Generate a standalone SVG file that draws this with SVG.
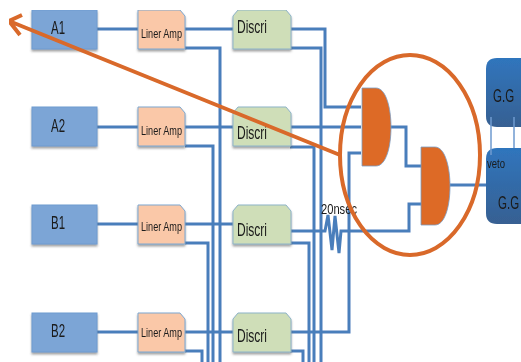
<svg xmlns="http://www.w3.org/2000/svg" width="521" height="362" viewBox="0 0 521 362">
<defs>
<filter id="sh" x="-10%" y="-10%" width="120%" height="125%"><feDropShadow dx="0" dy="2" stdDeviation="1" flood-color="#555" flood-opacity="0.55"/></filter>
<filter id="soft" x="0" y="0" width="100%" height="100%"><feGaussianBlur stdDeviation="0.45"/></filter>
<linearGradient id="gg" x1="0" y1="0" x2="0" y2="1"><stop offset="0" stop-color="#2f75bd"/><stop offset="1" stop-color="#376092"/></linearGradient>
</defs>
<style>
text{font-family:"Liberation Sans",Arial,sans-serif;fill:#1a1a1a}
.w{fill:none;stroke:#4a7ebb;stroke-width:3}
.d{fill:#7ba5d6;stroke:#6f9bd0;stroke-width:1;filter:url(#sh)}
.a{fill:#fac8a8;stroke:#7da7d0;stroke-width:1;filter:url(#sh)}
.c{fill:#cfdeb8;stroke:#8db3c8;stroke-width:1;filter:url(#sh)}
.g{fill:#dd6b26;stroke:#7a9cc4;stroke-width:0.8}
.big{font-size:18px}
.amp{font-size:13.5px}
.o{fill:none;stroke:#d9692a;stroke-width:4}
</style>
<g filter="url(#soft)">
<g id="connectors">
<path class="w" d="M97 29H139M97 127H139M97 224H139M97 332H139"/>
<path class="w" d="M185 29H233M185 127H233M185 224H233M185 332H233"/>
<path class="w" d="M185 48H220V362M185 146H213V362M185 243H208V362M185 351H202V362"/>
<path class="w" d="M290 29H325V107H361"/>
<path class="w" d="M290 48H321V362"/>
<path class="w" d="M290 127H361"/>
<path class="w" d="M290 147H314V362"/>
<path class="w" d="M290 231H325L328 215L332 250L335 216L339 253L341 231H409V204H421"/>
<path class="w" d="M290 243H309V362"/>
<path class="w" d="M290 332H349V153H361"/>
<path class="w" d="M290 351H303V362"/>
<path class="w" d="M390 127H406V166H421"/>
<path class="w" d="M450 185H486"/>
</g>
<g id="A1"><rect class="d" x="32" y="10" width="65" height="39"/><text class="big" x="51" y="34" textLength="14" lengthAdjust="spacingAndGlyphs">A1</text></g>
<g id="A2"><rect class="d" x="32" y="107" width="65" height="39"/><text class="big" x="51" y="132" textLength="14" lengthAdjust="spacingAndGlyphs">A2</text></g>
<g id="B1"><rect class="d" x="32" y="205" width="65" height="39"/><text class="big" x="51" y="229" textLength="14" lengthAdjust="spacingAndGlyphs">B1</text></g>
<g id="B2"><rect class="d" x="32" y="313" width="65" height="39"/><text class="big" x="51" y="337" textLength="14" lengthAdjust="spacingAndGlyphs">B2</text></g>
<g id="amp1"><path class="a" d="M138 10H180L185 16V49H138Z"/><text class="amp" x="141" y="38" textLength="41" lengthAdjust="spacingAndGlyphs">Liner Amp</text></g>
<g id="amp2"><path class="a" d="M138 107H180L185 113V146H138Z"/><text class="amp" x="141" y="135" textLength="41" lengthAdjust="spacingAndGlyphs">Liner Amp</text></g>
<g id="amp3"><path class="a" d="M138 205H180L185 211V244H138Z"/><text class="amp" x="141" y="231" textLength="41" lengthAdjust="spacingAndGlyphs">Liner Amp</text></g>
<g id="amp4"><path class="a" d="M138 313H180L185 319V352H138Z"/><text class="amp" x="141" y="337" textLength="41" lengthAdjust="spacingAndGlyphs">Liner Amp</text></g>
<g id="d1"><path class="c" d="M238 10H286L291 16V49H233V16Z"/><text class="big" x="237" y="33" textLength="30" lengthAdjust="spacingAndGlyphs">Discri</text></g>
<g id="d2"><path class="c" d="M238 107H286L291 113V146H233V113Z"/><text class="big" x="237" y="139" textLength="30" lengthAdjust="spacingAndGlyphs">Discri</text></g>
<g id="d3"><path class="c" d="M238 205H286L291 211V244H233V211Z"/><text class="big" x="237" y="236" textLength="30" lengthAdjust="spacingAndGlyphs">Discri</text></g>
<g id="d4"><path class="c" d="M238 313H286L291 319V352H233V319Z"/><text class="big" x="237" y="342" textLength="30" lengthAdjust="spacingAndGlyphs">Discri</text></g>
<g id="and1"><path class="g" d="M362 88H376C386 88 391 108 391 127C391 147 386 166 376 166H362Z"/></g>
<g id="and2"><path class="g" d="M421 147H435C445 147 450 167 450 186C450 206 445 225 435 225H421Z"/></g>
<g id="gg1"><path d="M497 58H521V127H497Q486 127 486 116V69Q486 58 497 58Z" fill="url(#gg)"/><text class="big" transform="translate(493 102) scale(.64 1)">G.G</text></g>
<g id="gg2"><path d="M497 148H521V224H497Q486 224 486 213V159Q486 148 497 148Z" fill="url(#gg)"/><text x="487" y="168" font-size="13" textLength="18" lengthAdjust="spacingAndGlyphs">veto</text><text class="big" transform="translate(498 209) scale(.64 1)">G.G</text></g>
<g id="veto-links"><path d="M491 117V155M514 117V148" fill="none" stroke="#6f9bd0" stroke-width="1.5"/></g>
<text id="delay" x="321" y="214" font-size="15" textLength="36" lengthAdjust="spacingAndGlyphs">20nsec</text>
<g id="annotation">
<ellipse class="o" cx="410" cy="155" rx="70" ry="100"/>
<path class="o" d="M340 155L9 21M22 15L9 21L20 35"/>
</g>
</g>
</svg>
